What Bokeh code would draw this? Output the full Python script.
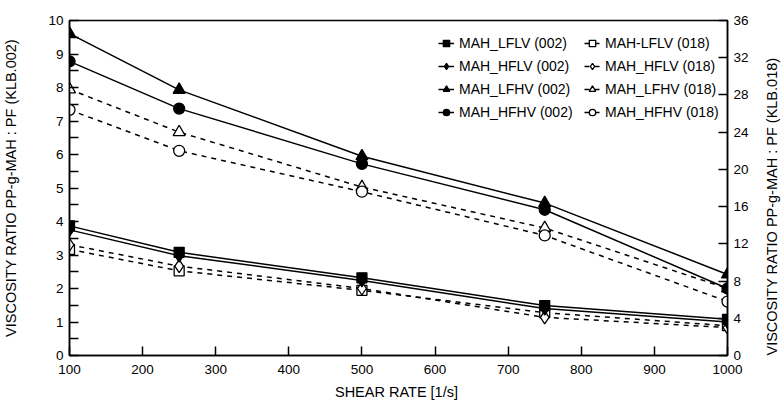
import math
from bokeh.plotting import figure
from bokeh.models import (LinearAxis, Range1d, FixedTicker, Legend, LegendItem)
from bokeh.embed import file_html
from bokeh.resources import INLINE

shear = [100, 250, 500, 750, 1000]
# left axis (KLB.002)
lflv_002 = [3.87, 3.08, 2.32, 1.49, 1.08]
hflv_002 = [3.75, 2.98, 2.24, 1.40, 1.00]
lfhv_002 = [9.61, 7.93, 5.95, 4.55, 2.42]
hfhv_002 = [8.78, 7.37, 5.72, 4.35, 2.00]
# right axis (KLB.018)
lflv_018 = [11.4, 9.1, 7.0, 4.6, 3.2]
hflv_018 = [11.9, 9.6, 7.2, 4.1, 3.0]
lfhv_018 = [28.6, 24.0, 18.1, 13.7, 7.2]
hfhv_018 = [26.4, 22.0, 17.6, 12.9, 5.8]

left_ticks = list(range(0, 11))
left_minor = [i + 0.5 for i in range(0, 10)]
right_ticks = list(range(0, 37, 4))
x_ticks = [100, 200, 300, 400, 500, 600, 700, 800, 900, 1000]

x_title = "SHEAR RATE  [1/s]"
left_title = "VISCOSITY RATIO PP-g-MAH : PF (KLB.002)"
right_title = "VISCOSITY RATIO PP-g-MAH : PF (KLB.018)"

FONT = "Liberation Sans"

p = figure(output_backend="svg", toolbar_location=None,
           x_range=Range1d(100, 1000), y_range=Range1d(0, 10),
           frame_width=658, frame_height=335,
           min_border_left=68, min_border_right=50, min_border_top=20, min_border_bottom=39)
p.extra_y_ranges = {"right": Range1d(0, 36)}
p.xgrid.visible = False
p.ygrid.visible = False
p.outline_line_color = "black"
p.outline_line_width = 1.5
p.background_fill_color = "white"
p.border_fill_color = "white"

def style_axis(ax, ticks, minor=None):
    ax.ticker = FixedTicker(ticks=ticks, minor_ticks=minor or [])
    ax.major_tick_in = 9
    ax.major_tick_out = 0
    ax.minor_tick_in = 9 if minor else 0
    ax.minor_tick_out = 0
    ax.major_tick_line_color = "black"
    ax.minor_tick_line_color = "black"
    ax.major_tick_line_width = 1.5
    ax.minor_tick_line_width = 1.5
    ax.axis_line_color = "black"
    ax.axis_line_width = 1.5
    ax.major_label_text_font = FONT
    ax.major_label_text_font_size = "13.5px"
    ax.major_label_text_color = "black"
    ax.axis_label_text_font = FONT
    ax.axis_label_text_font_size = "14.5px"
    ax.axis_label_text_font_style = "normal"
    ax.axis_label_text_color = "black"

xa = p.xaxis[0]
style_axis(xa, x_ticks)
xa.axis_label = x_title
xa.major_label_standoff = 9
xa.axis_label_standoff = 7

ya = p.yaxis[0]
style_axis(ya, left_ticks, left_minor)
ya.axis_label = left_title
ya.major_label_standoff = 6
ya.axis_label_standoff = 26

ra = LinearAxis(y_range_name="right")
style_axis(ra, right_ticks)
ra.axis_label = right_title
ra.major_label_standoff = 6
ra.axis_label_standoff = 20
ra.axis_label_orientation = math.pi / 2
ra.axis_label_align = "start"
p.add_layout(ra, "right")

items1 = []
items2 = []

def series(x, y, marker, filled, label, dashed, rng, lst):
    kw = {}
    if rng:
        kw["y_range_name"] = rng
    ln = p.line(x, y, line_color="black", line_width=1.5,
                line_dash="5 5" if dashed else "solid", **kw)
    sz = {"square": 10, "diamond": 13, "triangle": 12, "circle": 11}[marker]
    sc = p.scatter(x, y, marker=marker, size=sz, line_color="black", line_width=1.3,
                   fill_color="black" if filled else "white", **kw)
    lst.append(LegendItem(label=label, renderers=[ln, sc]))

series(shear, lflv_018, "square", False, "MAH-LFLV (018)", True, "right", items2)
series(shear, hflv_018, "diamond", False, "MAH_HFLV (018)", True, "right", items2)
series(shear, lfhv_018, "triangle", False, "MAH_LFHV (018)", True, "right", items2)
series(shear, hfhv_018, "circle", False, "MAH_HFHV (018)", True, "right", items2)
series(shear, lflv_002, "square", True, "MAH_LFLV (002)", False, None, items1)
series(shear, hflv_002, "diamond", True, "MAH_HFLV (002)", False, None, items1)
series(shear, lfhv_002, "triangle", True, "MAH_LFHV (002)", False, None, items1)
series(shear, hfhv_002, "circle", True, "MAH_HFHV (002)", False, None, items1)

def make_legend(items, loc):
    lg = Legend(items=items, location=loc, border_line_color=None,
                background_fill_alpha=0, padding=0, margin=0, spacing=3,
                glyph_width=16, glyph_height=20, label_height=20, label_standoff=5,
                label_text_font=FONT, label_text_font_size="14px", label_text_color="black")
    p.add_layout(lg, "center")

make_legend(items1, (369, 233))
make_legend(items2, (515, 233))

with open("out.html", "w") as f:
    f.write(file_html(p, INLINE))
